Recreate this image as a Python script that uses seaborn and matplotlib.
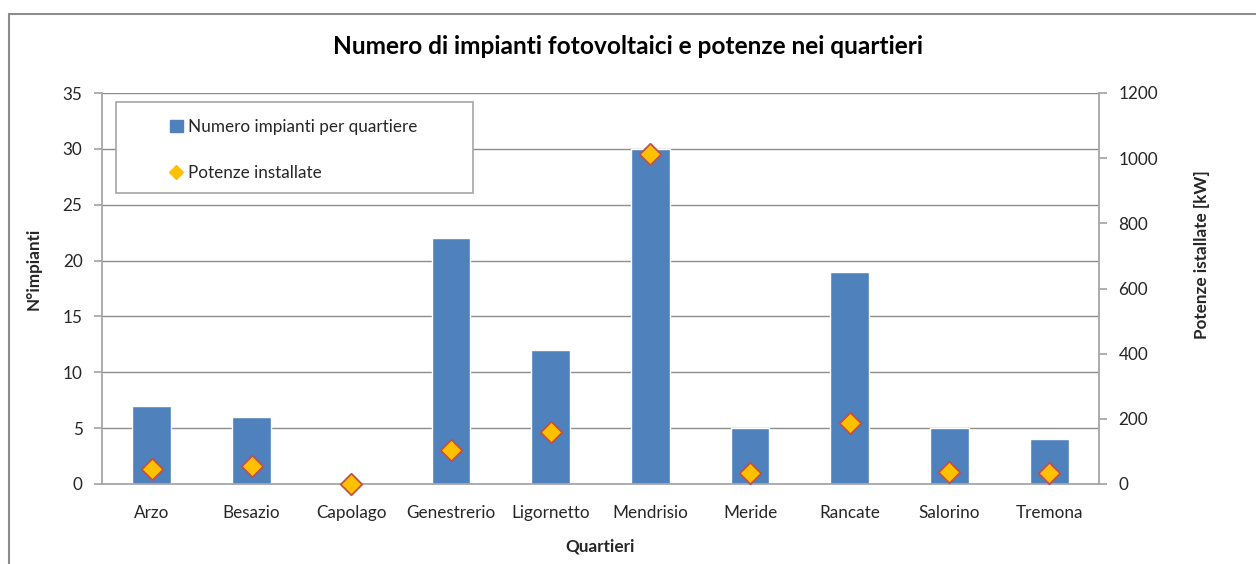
import numpy as np
import pandas as pd
import matplotlib
matplotlib.use("Agg")
import matplotlib.pyplot as plt
from matplotlib.lines import Line2D
from matplotlib.patches import Patch, Rectangle
import seaborn as sns

# Chart data
quartieri = ["Arzo", "Besazio", "Capolago", "Genestrerio", "Ligornetto",
             "Mendrisio", "Meride", "Rancate", "Salorino", "Tremona"]
n_impianti = [7, 6, 0, 22, 12, 30, 5, 19, 5, 4]
potenze_kw = [46, 56, 1, 104, 160, 1013, 33, 186, 36, 33]

df = pd.DataFrame({"Quartiere": quartieri, "Impianti": n_impianti, "Potenza": potenze_kw})

sns.set_theme(style="white")
plt.rcParams["font.family"] = ["Lato", "DejaVu Sans"]

W, H = 1256, 564
fig = plt.figure(figsize=(W / 100, H / 100), dpi=100)
ax = fig.add_axes([102 / W, 1 - 484 / H, (1099 - 102) / W, (484 - 93) / H])
aw, ah = 1099 - 102, 484 - 93

bar_color = "#4F81BD"
grid_color = "#8C8C8C"
fs = 12.3

sns.barplot(data=df, x="Quartiere", y="Impianti", color=bar_color, width=0.39,
            saturation=1, ax=ax, zorder=2)
ax.set_ylim(0, 35)
ax.set_yticks(range(0, 36, 5))
ax.set_xlim(-0.5, len(quartieri) - 0.5)
ax.yaxis.grid(True, color=grid_color, linewidth=1.0)
ax.set_axisbelow(True)
for s in ["top", "right"]:
    ax.spines[s].set_visible(False)
for s in ["left", "bottom"]:
    ax.spines[s].set_color("#A6A6A6")
    ax.spines[s].set_linewidth(1.3)
ax.tick_params(axis="y", left=True, length=6, color="#A6A6A6", labelsize=fs,
               labelcolor="#262626", pad=8)
ax.tick_params(axis="x", bottom=False, labelsize=fs, labelcolor="#262626", pad=9)
ax.set_xlabel("Quartieri", fontsize=fs, fontweight="bold")
ax.xaxis.set_label_coords(0.5, -(538 - 484) / ah)
ax.set_ylabel("N°impianti", fontsize=fs, fontweight="bold")
ax.yaxis.set_label_coords(-(102 - 42) / aw, (484 - 269) / ah)

ax2 = ax.twinx()
sns.scatterplot(data=df, x="Quartiere", y="Potenza", marker="D", s=120,
                color="#FFC000", edgecolor="#C0504D", linewidth=1.3, ax=ax2,
                zorder=3, clip_on=False, legend=False)
ax2.set_ylim(0, 1200)
ax2.set_yticks(range(0, 1201, 200))
ax2.set_xlim(-0.5, len(quartieri) - 0.5)
for s in ["top", "left", "bottom"]:
    ax2.spines[s].set_visible(False)
ax2.spines["right"].set_color("#A6A6A6")
ax2.spines["right"].set_linewidth(1.3)
ax2.tick_params(axis="y", right=True, length=6, color="#A6A6A6", labelsize=fs,
                labelcolor="#262626", pad=8)
ax2.set_ylabel("Potenze istallate [kW]", fontsize=fs, fontweight="bold")
ax2.yaxis.set_label_coords((1194 - 102) / aw, (484 - 255) / ah)
ax2.grid(False)

# Legend box (drawn separately so the wide inner padding matches)
ax2.add_patch(Rectangle(((116 - 102) / aw, (484 - 193) / ah), (473 - 116) / aw,
                        (193 - 102) / ah, transform=ax2.transAxes, facecolor="white",
                        edgecolor="#A6A6A6", linewidth=1.2, zorder=4))
handles = [Patch(facecolor=bar_color, edgecolor=bar_color),
           Line2D([0], [0], marker="D", linestyle="none", markersize=7,
                  markerfacecolor="#FFC000", markeredgecolor="#FFC000")]
labels = ["Numero impianti per quartiere", "Potenze installate"]
leg = ax2.legend(handles, labels, loc="upper left",
                 bbox_to_anchor=((170 - 102) / aw, (484 - 119) / ah),
                 frameon=False, fontsize=fs, labelspacing=1.75,
                 handlelength=0.75, handleheight=0.75, handletextpad=0.3,
                 borderpad=0, borderaxespad=0)
leg.set_zorder(5)

fig.text(628 / W, 1 - 46 / H, "Numero di impianti fotovoltaici e potenze nei quartieri",
         ha="center", va="center", fontsize=17.6, fontweight="bold", color="#000000")

# Outer chart frame (top and left edges)
fig.add_artist(Line2D([8.5 / W, 1], [1 - 14 / H, 1 - 14 / H], transform=fig.transFigure,
                      color="#8C8C8C", linewidth=1.5))
fig.add_artist(Line2D([8.5 / W, 8.5 / W], [0, 1 - 14 / H], transform=fig.transFigure,
                      color="#8C8C8C", linewidth=1.5))

fig.savefig("out.png", dpi=100)
